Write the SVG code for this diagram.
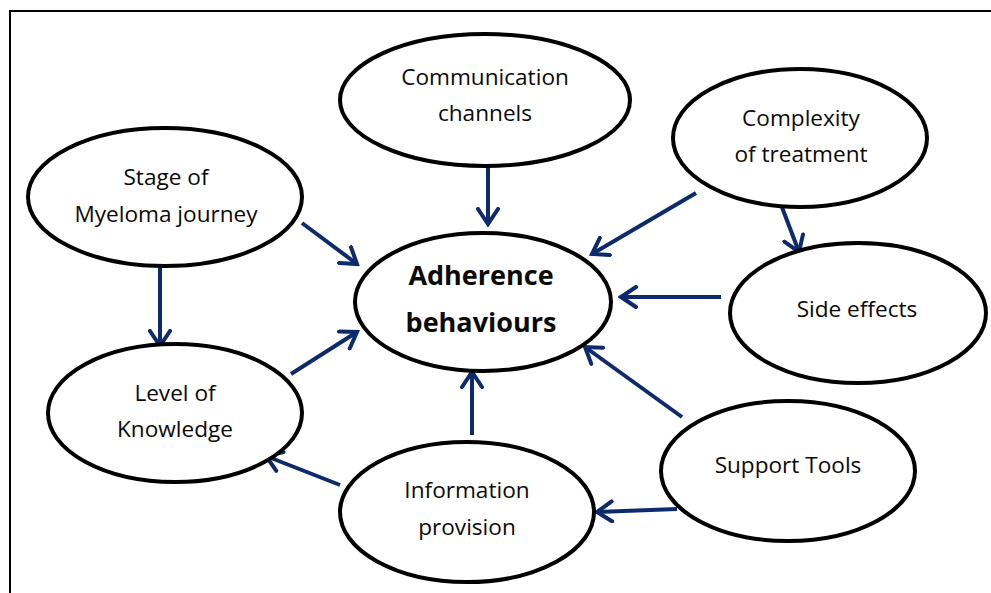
<svg xmlns="http://www.w3.org/2000/svg" width="991" height="593" viewBox="0 0 991 593">
  <defs>
    <style>
      .node ellipse { fill: #ffffff; stroke: #000000; stroke-width: 4; }
      .node text { font-family: "Open Sans", "Liberation Sans", sans-serif; font-size: 22.6px; fill: #0a0a0a; text-anchor: middle; }
      .node text.main { font-size: 27px; font-weight: bold; }
      .edges line { stroke: #0c2a6c; stroke-width: 4; marker-end: url(#head); }
      .frame { stroke: #000000; stroke-width: 2; fill: none; }
    </style>
    <marker id="head" markerUnits="userSpaceOnUse" markerWidth="20" markerHeight="24" viewBox="-17 -12 20 24" refX="0" refY="0" orient="auto">
      <path d="M-15,-10 L0,0 L-15,10" fill="none" stroke="#0c2a6c" stroke-width="4" stroke-linecap="round" stroke-linejoin="miter"/>
    </marker>
  </defs>

  <rect width="991" height="593" fill="#ffffff"/>
  <!-- outer frame: top and left rules -->
  <path class="frame" d="M10,593 L10,11 L991,11"/>

  <!-- connectors -->
  <g id="edges" class="edges">
    <line x1="488" y1="166" x2="488" y2="224"/>
    <line x1="302" y1="223" x2="357" y2="264"/>
    <line x1="160" y1="263" x2="160" y2="346"/>
    <line x1="291" y1="374" x2="357" y2="332"/>
    <line x1="340" y1="485" x2="266" y2="456"/>
    <line x1="472" y1="435" x2="472" y2="372"/>
    <line x1="677" y1="509" x2="597" y2="512"/>
    <line x1="682" y1="417" x2="585" y2="347"/>
    <line x1="721" y1="297" x2="621" y2="297"/>
    <line x1="696" y1="193" x2="592" y2="254"/>
    <line x1="780" y1="202" x2="799" y2="252"/>
  </g>

  <g id="node-communication" class="node">
    <ellipse cx="485" cy="100" rx="145" ry="66"/>
    <text x="485" y="85">Communication</text>
    <text x="485" y="121">channels</text>
  </g>

  <g id="node-complexity" class="node">
    <ellipse cx="800" cy="138" rx="127" ry="69"/>
    <text x="801" y="126">Complexity</text>
    <text x="801" y="162">of treatment</text>
  </g>

  <g id="node-stage" class="node">
    <ellipse cx="165" cy="197" rx="137" ry="69"/>
    <text x="166" y="185">Stage of</text>
    <text x="166" y="222">Myeloma journey</text>
  </g>

  <g id="node-adherence" class="node">
    <ellipse cx="483" cy="302" rx="128" ry="69"/>
    <text class="main" x="481" y="285">Adherence</text>
    <text class="main" x="481" y="332">behaviours</text>
  </g>

  <g id="node-side-effects" class="node">
    <ellipse cx="858" cy="313" rx="128" ry="70"/>
    <text x="857" y="317">Side effects</text>
  </g>

  <g id="node-knowledge" class="node">
    <ellipse cx="175" cy="413" rx="127" ry="69"/>
    <text x="175" y="401">Level of</text>
    <text x="175" y="437">Knowledge</text>
  </g>

  <g id="node-support" class="node">
    <ellipse cx="788" cy="471" rx="127" ry="70"/>
    <text x="788" y="473">Support Tools</text>
  </g>

  <g id="node-information" class="node">
    <ellipse cx="467" cy="512" rx="127" ry="70"/>
    <text x="467" y="498">Information</text>
    <text x="467" y="535">provision</text>
  </g>
</svg>
